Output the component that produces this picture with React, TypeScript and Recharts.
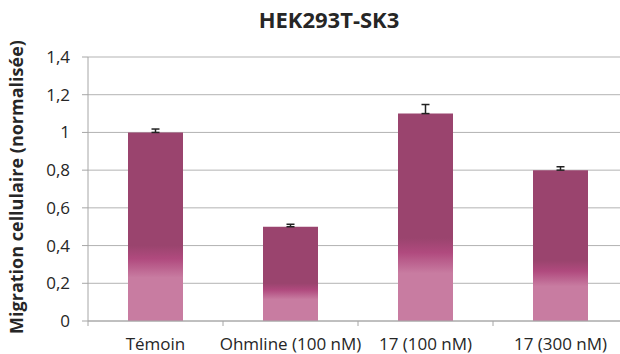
import React from 'react';
import { BarChart, Bar, XAxis, YAxis, CartesianGrid, ErrorBar } from 'recharts';

const categories = ['Témoin', 'Ohmline (100 nM)', '17 (100 nM)', '17 (300 nM)'];
const migration = [1.0, 0.5, 1.1, 0.8];
const errors = [0.018, 0.013, 0.048, 0.018];
const yTicks = [0, 0.2, 0.4, 0.6, 0.8, 1.0, 1.2, 1.4];
const title = 'HEK293T-SK3';
const yLabel = 'Migration cellulaire (normalisée)';

const data = categories.map((c, i) => ({ name: c, value: migration[i], err: [0, errors[i]] }));

const FONT = '"Open Sans", sans-serif';

const fmt = (v: number) => (Number.isInteger(v) ? String(v) : v.toFixed(1).replace('.', ','));

const XTick = (props: any) => {
  const { x, y, payload, width, visibleTicksCount } = props;
  const bw = width / visibleTicksCount;
  return (
    <g>
      <line x1={x - bw / 2} x2={x - bw / 2} y1={y} y2={y + 5} stroke="#a6a6a6" strokeWidth={1} />
      <text x={x} y={y + 29} textAnchor="middle" fontFamily={FONT} fontSize={17} fill="#262626">
        {payload.value}
      </text>
    </g>
  );
};

export default function App() {
  return (
    <div style={{ position: 'fixed', left: 0, top: 0, width: 620, height: 354, overflow: 'hidden', background: '#fff' }}>
      <div
        style={{
          position: 'absolute', left: 329, top: 5, transform: 'translateX(-50%)', whiteSpace: 'nowrap',
          fontFamily: FONT, fontWeight: 700, fontSize: 22, color: '#262626', lineHeight: '28px',
        }}
      >
        {title}
      </div>
      <div
        style={{
          position: 'absolute', left: 16, top: 187, transform: 'translate(-50%, -50%) rotate(-90deg)', whiteSpace: 'nowrap',
          fontFamily: FONT, fontWeight: 700, fontSize: 18, color: '#262626', lineHeight: '22px',
        }}
      >
        {yLabel}
      </div>
      <div style={{ position: 'absolute', left: 0, top: 0 }}>
        <BarChart width={640} height={354} data={data} margin={{ top: 57, right: 12, left: 0, bottom: 0 }} barSize={55}>
          <defs>
            <linearGradient id="barGrad" x1="0" y1="0" x2="0" y2="1">
              <stop offset="0" stopColor="#9a446e" />
              <stop offset="0.6" stopColor="#9a446e" />
              <stop offset="0.67" stopColor="#b04a7e" />
              <stop offset="0.77" stopColor="#c87ca1" />
              <stop offset="1" stopColor="#c87ca1" />
            </linearGradient>
          </defs>
          <CartesianGrid vertical={false} stroke="#b3b3b3" strokeWidth={1} />
          <XAxis
            dataKey="name"
            height={33}
            axisLine={{ stroke: '#a6a6a6' }}
            tickLine={false}
            tickSize={0}
            tickMargin={0}
            tick={<XTick />}
            interval={0}
          />
          <XAxis xAxisId="over" dataKey="name" height={0} hide />
          <YAxis
            width={88}
            domain={[0, 1.4]}
            ticks={yTicks}
            tickFormatter={fmt}
            axisLine={{ stroke: '#a6a6a6' }}
            tickLine={{ stroke: '#a6a6a6' }}
            tickSize={6}
            tickMargin={12}
            tick={{ fontFamily: FONT, fontSize: 17, fill: '#262626' }}
            interval={0}
          />
          <Bar dataKey="value" fill="transparent" isAnimationActive={false}>
            <ErrorBar dataKey="err" width={4} stroke="#222" strokeWidth={1.5} direction="y" />
          </Bar>
          <Bar xAxisId="over" dataKey="value" fill="url(#barGrad)" isAnimationActive={false} />
        </BarChart>
      </div>
    </div>
  );
}
